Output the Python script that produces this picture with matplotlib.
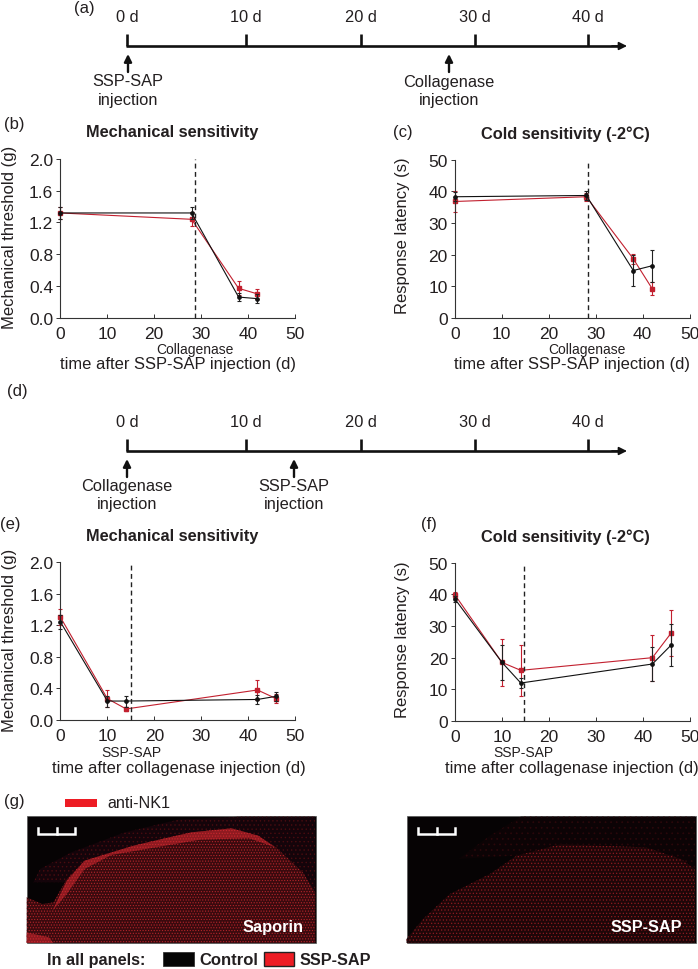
import matplotlib
matplotlib.use('Agg')
import matplotlib.pyplot as plt
from matplotlib.patches import Polygon, Rectangle

plt.rcParams['font.family'] = ['Liberation Sans', 'DejaVu Sans']
plt.rcParams['hatch.linewidth'] = 0.5

W, H = 698, 970
TXT = '#231f20'
RED = '#c2202f'
BLK = '#111111'

# data
days_b = [0, 28, 38, 42]
mech_b_ctrl = [1.32, 1.32, 0.26, 0.24]
mech_b_ctrl_err = [0.08, 0.08, 0.05, 0.06]
mech_b_ssp = [1.32, 1.24, 0.37, 0.30]
mech_b_ssp_err = [0.08, 0.09, 0.09, 0.06]

cold_c_ctrl = [38.3, 38.7, 15.0, 16.5]
cold_c_ctrl_err = [1.5, 1.3, 5.0, 5.0]
cold_c_ssp = [36.8, 38.3, 18.7, 9.3]
cold_c_ssp_err = [3.2, 1.2, 1.5, 2.0]

days_e = [0, 10, 14, 42, 46]
mech_e_ctrl = [1.24, 0.24, 0.24, 0.26, 0.30]
mech_e_ctrl_err = [0.09, 0.07, 0.07, 0.06, 0.06]
mech_e_ssp = [1.30, 0.27, 0.14, 0.38, 0.27]
mech_e_ssp_err = [0.10, 0.11, 0.02, 0.13, 0.06]

cold_f_ctrl = [38.5, 18.5, 12.0, 18.0, 24.0]
cold_f_ctrl_err = [1.0, 5.5, 1.5, 5.5, 6.5]
cold_f_ssp = [39.8, 18.5, 16.0, 20.0, 27.8]
cold_f_ssp_err = [0.8, 7.5, 8.0, 7.3, 7.2]

timeline_labels = ['0 d', '10 d', '20 d', '30 d', '40 d']
timeline_px = [127, 246, 361, 475, 588]
x_ticks = [0, 10, 20, 30, 40, 50]
mech_ticks = [0.0, 0.4, 0.8, 1.2, 1.6, 2.0]
cold_ticks = [0, 10, 20, 30, 40, 50]

fig = plt.figure(figsize=(W / 100, H / 100), dpi=100)

# overlay in pixel coordinates for text and sketches
ov = fig.add_axes([0, 0, 1, 1])
ov.set_xlim(0, W)
ov.set_ylim(H, 0)
ov.axis('off')


def label(x, y, s, size=12, **kw):
    kw.setdefault('color', TXT)
    ov.text(x, y, s, fontsize=size, ha=kw.pop('ha', 'center'), va='center', **kw)


def timeline(y, arrows):
    ov.plot([timeline_px[0] - 1, 620], [y, y], color=BLK, lw=1.9, solid_capstyle='butt')
    ov.annotate('', xy=(627, y), xytext=(612, y),
                arrowprops=dict(arrowstyle='-|>', color=BLK, lw=1.2, mutation_scale=12,
                                shrinkA=0, shrinkB=0))
    for px, s in zip(timeline_px, timeline_labels):
        ov.plot([px, px], [y, y - 12], color=BLK, lw=1.9, solid_capstyle='butt')
        label(px, y - 29, s, 11.8)
    for px, s in arrows:
        ov.annotate('', xy=(px, y + 8), xytext=(px, y + 26),
                    arrowprops=dict(arrowstyle='-|>', color=BLK, lw=1.7, mutation_scale=11,
                                    shrinkA=0, shrinkB=0))
        label(px, y + 35, s, 11.8)
        label(px, y + 53, 'injection', 11.8)


timeline(47, [(128, 'SSP-SAP'), (449, 'Collagenase')])
timeline(452, [(127, 'Collagenase'), (294, 'SSP-SAP')])


def panel(box, days, ctrl, ctrl_err, ssp, ssp_err, ymax, yticks, yfmt, dash):
    x0, x1, ytop, ybot = box
    ax = fig.add_axes([x0 / W, 1 - ybot / H, (x1 - x0) / W, (ybot - ytop) / H])
    ax.patch.set_alpha(0)
    ax.errorbar(days, ssp, yerr=ssp_err, color=RED, ecolor=RED, lw=0.8, elinewidth=0.8,
                capsize=1.6, capthick=0.8, marker='s', ms=2.6, clip_on=False, zorder=2)
    ax.errorbar(days, ctrl, yerr=ctrl_err, color=BLK, ecolor='#222222', lw=0.8, elinewidth=0.8,
                capsize=1.6, capthick=0.8, marker='o', ms=2.4, clip_on=False, zorder=3)
    ax.plot([dash, dash], [0, ymax], color='#222222', lw=1.0, ls=(0, (3.5, 2.5)),
            clip_on=False, zorder=4)
    ax.set_xlim(0, 50)
    ax.set_ylim(0, ymax)
    ax.set_xticks(x_ticks)
    ax.set_yticks(yticks)
    ax.set_yticklabels([yfmt.format(t) for t in yticks])
    ax.tick_params(axis='x', direction='in', length=3, width=0.7, colors='#333333',
                   labelsize=12.5, pad=6, labelcolor=TXT)
    ax.tick_params(axis='y', direction='out', length=3, width=0.7, colors='#333333',
                   labelsize=12.5, pad=2, labelcolor=TXT)
    for sp in ['top', 'right']:
        ax.spines[sp].set_visible(False)
    for sp in ['left', 'bottom']:
        ax.spines[sp].set_linewidth(0.8)
        ax.spines[sp].set_color('#333333')
    return ax


panel((60, 295, 160, 318.7), days_b, mech_b_ctrl, mech_b_ctrl_err, mech_b_ssp, mech_b_ssp_err,
      2.0, mech_ticks, '{:.1f}', 28.7)
panel((454.7, 689.7, 160.7, 319), days_b, cold_c_ctrl, cold_c_ctrl_err, cold_c_ssp, cold_c_ssp_err,
      50, cold_ticks, '{:d}', 28.3)
panel((60.5, 295, 563, 721), days_e, mech_e_ctrl, mech_e_ctrl_err, mech_e_ssp, mech_e_ssp_err,
      2.0, mech_ticks, '{:.1f}', 15)
panel((455, 690, 563.7, 722), days_e, cold_f_ctrl, cold_f_ctrl_err, cold_f_ssp, cold_f_ssp_err,
      50, cold_ticks, '{:d}', 14.7)

# panel letters
for x, y, s in [(84, 8, '(a)'), (14, 124, '(b)'), (403, 133, '(c)'), (17, 392, '(d)'),
                (10, 525, '(e)'), (429, 525, '(f)'), (14, 802, '(g)')]:
    label(x, y, s, 12)

# titles
for x, y, s in [(172, 132, 'Mechanical sensitivity'), (565, 134, 'Cold sensitivity (-2°C)'),
                (172, 537, 'Mechanical sensitivity'), (565, 537, 'Cold sensitivity (-2°C)')]:
    label(x, y, s, 11.8, fontweight='bold')

# axis labels
for x, y, s in [(9.5, 237, 'Mechanical threshold (g)'), (403, 236, 'Response latency (s)'),
                (10, 640, 'Mechanical threshold (g)'), (403, 640, 'Response latency (s)')]:
    label(x, y, s, 12, rotation=90)
for x, y, s in [(178, 365, 'time after SSP-SAP injection (d)'), (572, 365, 'time after SSP-SAP injection (d)'),
                (179, 769, 'time after collagenase injection (d)'), (572, 769, 'time after collagenase injection (d)')]:
    label(x, y, s, 11.9)
for x, y, s in [(195, 350, 'Collagenase'), (587, 350, 'Collagenase'), (131, 753, 'SSP-SAP'), (523, 753, 'SSP-SAP')]:
    label(x, y, s, 10)


# micrographs, sketched as dotted regions (zoom-crop coordinates)
def zp(pts):
    return [(zx / 2.246, 770 + zy / 3) for zx, zy in pts]


def micrograph(x, regions):
    ov.add_patch(Rectangle((x, 817.3), 289, 127, fc='#060304', ec='#555555', lw=0.5, zorder=1))
    for pts, col, dots, hatch in regions:
        ov.add_patch(Polygon(zp(pts), closed=True, fc=col, ec=dots, lw=0, hatch=hatch, zorder=2))


left_regions = [
    ([(75, 340), (90, 300), (160, 250), (280, 190), (400, 152), (540, 143), (708, 143), (708, 370), (150, 340)],
     '#14040a', '#4a0c10', '....'),
    ([(60, 385), (95, 405), (120, 400), (150, 330), (190, 275), (300, 230), (380, 205), (430, 190), (520, 178),
      (580, 200), (620, 235), (680, 310), (708, 370), (708, 522), (60, 522)], '#3a0a0e', '#b3242a', '......'),
    ([(118, 425), (150, 335), (190, 275), (300, 230), (380, 205), (430, 190), (520, 178), (580, 200), (618, 235),
      (560, 208), (450, 212), (350, 235), (250, 258), (190, 300), (150, 375)], '#8e1a20', '#c8282e', '......'),
    ([(60, 490), (110, 505), (120, 522), (60, 522)], '#8e1a20', '#c8282e', '......'),
]
right_regions = [
    ([(1030, 270), (1100, 200), (1170, 143), (1561, 143), (1561, 300), (1450, 235), (1260, 225), (1160, 260)],
     '#0c0305', '#2c080b', '...'),
    ([(913, 510), (950, 450), (1010, 375), (1100, 315), (1160, 260), (1260, 225), (1350, 230), (1450, 235),
      (1530, 270), (1561, 300), (1561, 522), (913, 522)], '#1e0608', '#8c1a20', '.....'),
]
micrograph(26.7, left_regions)
micrograph(406.5, right_regions)

for x in [38, 418]:
    ov.plot([x, x, x + 37, x + 37], [829, 835, 835, 829], color='white', lw=1.8, zorder=3,
            solid_joinstyle='miter')
    ov.plot([x + 18.5, x + 18.5], [829, 835], color='white', lw=1.8, zorder=3)
label(273, 928, 'Saporin', 11.8, color='white', fontweight='bold', zorder=3)
label(646, 928, 'SSP-SAP', 11.7, color='white', fontweight='bold', zorder=3)

# legends
ov.add_patch(Rectangle((65, 800), 32, 8, fc='#ed1c24', ec='none'))
label(107, 804, 'anti-NK1', 11.6, ha='left')
label(47, 961, 'In all panels:', 11.7, ha='left', fontweight='bold')
ov.add_patch(Rectangle((163, 953), 31, 14, fc='#050505', ec='#333333', lw=0.6))
label(199, 961, 'Control', 12, ha='left', fontweight='bold')
ov.add_patch(Rectangle((264, 953), 30, 14, fc='#ed1c24', ec='#222222', lw=1))
label(300, 961, 'SSP-SAP', 11.7, ha='left', fontweight='bold')

fig.savefig('out.png', dpi=100)
